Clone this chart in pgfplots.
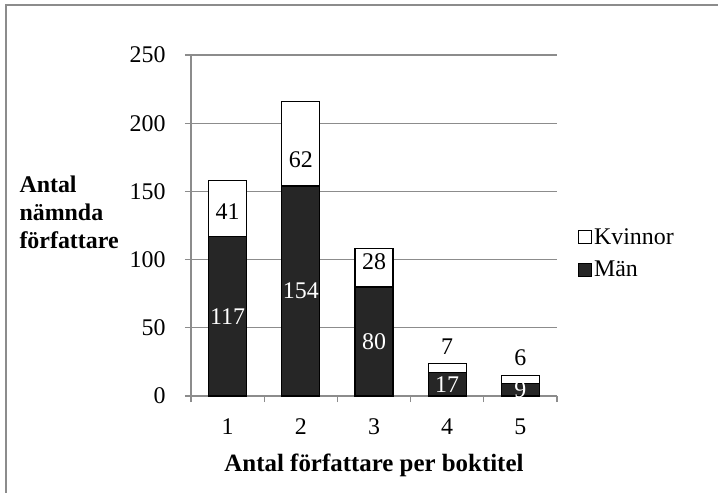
\documentclass[border=0pt]{standalone}
\usepackage{fontspec}
\setmainfont{Liberation Serif}
\usepackage{pgfplots}
\usepackage{pgfplotstable}
\pgfplotsset{compat=1.18}

\definecolor{manfill}{HTML}{262626}
\definecolor{gridgray}{HTML}{8C8C8C}
\newcommand{\fs}{\fontsize{24}{28}\selectfont}

% antal författare per boktitel: män (nederst) och kvinnor (överst)
\pgfplotstableread{
x y
1 117
2 154
3 80
4 17
5 9
}\man
% off = etikettens förskjutning från segmentets mitt (i y-enheter)
\pgfplotstableread{
x y off
1 41 -2.3
2 62 -11.4
3 28 4.4
4 7 15.5
5 6 16
}\kvinnor

\begin{document}
\begin{tikzpicture}
\begin{axis}[
    scale only axis,
    width=366bp, height=341bp,
    ybar stacked, bar width=38bp,
    xmin=0.5, xmax=5.5, ymin=0, ymax=250,
    xtick={1,...,5},
    minor xtick={0.5,1.5,...,5.5},
    ytick={0,50,...,250},
    axis x line*=bottom, axis y line*=left,
    axis line style={gridgray, line width=1.3bp},
    tick align=outside,
    major tick length=6bp, minor tick length=6bp,
    major x tick style={draw=none},
    minor x tick style={gridgray, line width=1.3bp},
    ytick style={gridgray, line width=1.3bp},
    ymajorgrids, grid style={gridgray, line width=1.3bp},
    tick label style={font=\fs, black},
    xticklabel style={yshift=-13bp},
    yticklabel style={anchor=east, xshift=-16bp},
    /pgf/number format/assume math mode=true,
    legend style={at={(1.057,0.497)}, anchor=north west, draw=none, fill=none,
        font=\fs, row sep=11bp, inner sep=0pt},
    legend cell align=left,
    reverse legend,
    legend image code/.code={\draw[#1, line width=1bp] (0bp,-6.5bp) rectangle (13bp,6.5bp);},
]
\addplot[fill=manfill, draw=black, line width=1.3bp,
    point meta=rawy, nodes near coords,
    every node near coord/.append style={text=white, font=\fs}]
    table[x=x, y=y] {\man};
\addlegendentry{Män}
\addplot[fill=white, draw=black, line width=1.3bp,
    point meta=rawy, nodes near coords,
    visualization depends on=\thisrow{off} \as \off,
    every node near coord/.append style={text=black, font=\fs,
        shift={(axis direction cs:0,\off)}}]
    table[x=x, y=y] {\kvinnor};
\addlegendentry{Kvinnor}
\end{axis}
\node[anchor=center, font=\fontsize{25}{28}\selectfont\bfseries] at (183bp,-69bp)
    {Antal författare per boktitel};
\node[anchor=west, align=left, font=\fontsize{24}{28}\selectfont\bfseries]
    at (-175bp,184bp) {Antal\\nämnda\\författare};
\draw[gridgray, line width=1.5bp] (-185bp,-97bp) -- (-185bp,391bp) -- (527bp,391bp);
\pgfresetboundingbox
\path[use as bounding box] (-191bp,-97bp) rectangle (527bp,396bp);
\end{tikzpicture}
\end{document}
